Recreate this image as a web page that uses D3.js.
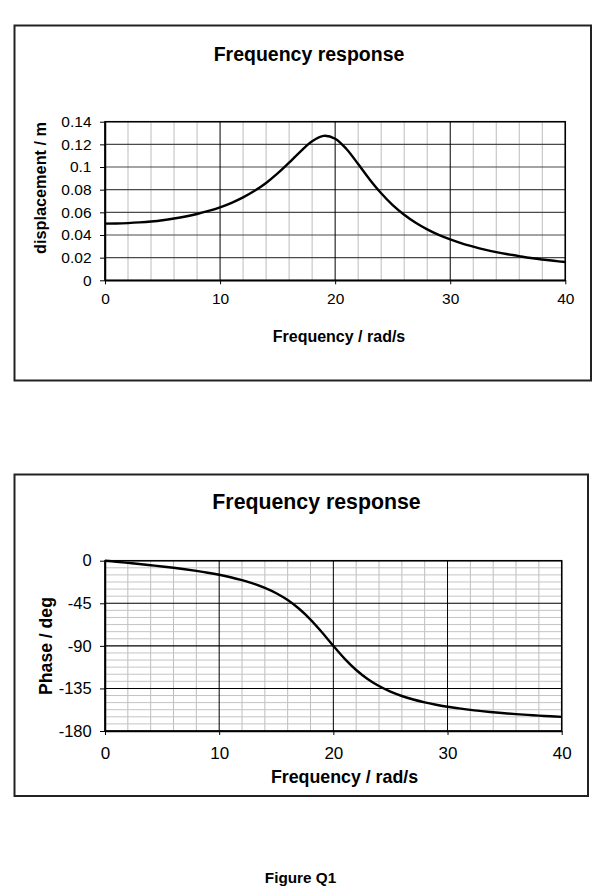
<!DOCTYPE html>
<html>
<head>
<meta charset="utf-8">
<script src="https://cdn.jsdelivr.net/npm/d3@7"></script>
<style>
  html, body { margin: 0; padding: 0; background: #fff; }
  svg { display: block; font-family: "Liberation Sans", Arial, sans-serif; }
</style>
</head>
<body>
<svg id="chart" width="606" height="895"></svg>
<script>
// ---- data ----
const freq = [0,1,2,3,4,5,6,7,8,9,10,11,12,13,14,15,16,17,18,19,20,21,22,23,24,25,26,27,28,29,30,31,32,33,34,35,36,37,38,39,40];
const displacement = [0.0500,0.0501,0.0505,0.0511,0.0519,0.0530,0.0545,0.0563,0.0585,0.0612,0.0644,0.0684,0.0732,0.0790,0.0859,0.0943,0.1038,0.1139,0.1228,0.1275,0.1250,0.1157,0.1026,0.0890,0.0768,0.0664,0.0579,0.0508,0.0450,0.0401,0.0361,0.0326,0.0297,0.0271,0.0249,0.0230,0.0213,0.0197,0.0184,0.0172,0.0161];
const phase = [0,-1.1,-2.3,-3.5,-4.8,-6.1,-7.5,-9.1,-10.8,-12.7,-14.9,-17.5,-20.6,-24.2,-28.8,-34.4,-41.6,-50.8,-62.2,-75.6,-90.0,-103.7,-115.5,-125.0,-132.5,-138.4,-143.0,-146.7,-149.7,-152.2,-154.4,-156.1,-157.7,-159.0,-160.2,-161.3,-162.2,-163.0,-163.8,-164.4,-165.1];
const freqTicks = [0,10,20,30,40];
const freqMinorTicks = [2,4,6,8,12,14,16,18,22,24,26,28,32,34,36,38];
const dispTicks = [0,0.02,0.04,0.06,0.08,0.1,0.12,0.14];
const dispTickLabels = ["0","0.02","0.04","0.06","0.08","0.1","0.12","0.14"];
const phaseTicks = [0,-45,-90,-135,-180];
const phaseTickLabels = ["0","-45","-90","-135","-180"];
const phaseMinorTicks = [-7.5,-15,-22.5,-30,-37.5,-52.5,-60,-67.5,-75,-82.5,-97.5,-105,-112.5,-120,-127.5,-142.5,-150,-157.5,-165,-172.5];
const chartTitle = "Frequency response";
const xTitle = "Frequency / rad/s";
const yTitleTop = "displacement / m";
const yTitleBottom = "Phase / deg";
const caption = "Figure Q1";

const svg = d3.select("#chart");

function drawChart(cfg) {
  const g = svg.append("g");
  // outer frame
  g.append("rect")
    .attr("x", cfg.box[0]).attr("y", cfg.box[1])
    .attr("width", cfg.box[2] - cfg.box[0]).attr("height", cfg.box[3] - cfg.box[1])
    .attr("fill", "#fff").attr("stroke", "#222").attr("stroke-width", 2);

  const x = d3.scaleLinear().domain([0, 40]).range([cfg.plot[0], cfg.plot[2]]);
  const y = d3.scaleLinear().domain(cfg.yDomain).range([cfg.plot[3], cfg.plot[1]]);

  // grid: vertical minor
  g.append("g").selectAll("line").data(freqMinorTicks).join("line")
    .attr("x1", d => x(d)).attr("x2", d => x(d))
    .attr("y1", cfg.plot[1]).attr("y2", cfg.plot[3])
    .attr("stroke", "#bdbdbd").attr("stroke-width", 1);
  // grid: horizontal minor
  if (cfg.yMinor) {
    g.append("g").selectAll("line").data(cfg.yMinor).join("line")
      .attr("x1", cfg.plot[0]).attr("x2", cfg.plot[2])
      .attr("y1", d => y(d)).attr("y2", d => y(d))
      .attr("stroke", "#c4c4c4").attr("stroke-width", 1);
  }
  // grid: horizontal major
  g.append("g").selectAll("line").data(cfg.yTicks).join("line")
    .attr("x1", cfg.plot[0]).attr("x2", cfg.plot[2])
    .attr("y1", d => y(d)).attr("y2", d => y(d))
    .attr("stroke", cfg.hMajorColor).attr("stroke-width", 1.1);
  // grid: vertical major
  g.append("g").selectAll("line").data(freqTicks).join("line")
    .attr("x1", d => x(d)).attr("x2", d => x(d))
    .attr("y1", cfg.plot[1]).attr("y2", cfg.plot[3])
    .attr("stroke", "#000").attr("stroke-width", 1);

  // plot frame
  g.append("rect")
    .attr("x", cfg.plot[0]).attr("y", cfg.plot[1])
    .attr("width", cfg.plot[2] - cfg.plot[0]).attr("height", cfg.plot[3] - cfg.plot[1])
    .attr("fill", "none").attr("stroke", "#000").attr("stroke-width", 1.5);

  // axes
  const xAxis = d3.axisBottom(x).tickValues(freqTicks).tickFormat(d3.format("d"))
    .tickSizeInner(4).tickSizeOuter(0).tickPadding(cfg.xPad);
  const gx = g.append("g").attr("transform", `translate(0,${cfg.plot[3]})`).call(xAxis);
  gx.select(".domain").attr("stroke", "#000").attr("stroke-width", 1.5);
  gx.selectAll(".tick line").attr("stroke", "#000");
  gx.selectAll("text").attr("font-size", cfg.xTickFont).attr("fill", "#000")
    .attr("font-family", "Liberation Sans, Arial, sans-serif");

  const yAxis = d3.axisLeft(y).tickValues(cfg.yTicks)
    .tickFormat((d, i) => cfg.yLabels[i])
    .tickSizeInner(5).tickSizeOuter(0).tickPadding(cfg.yPad);
  const gy = g.append("g").attr("transform", `translate(${cfg.plot[0]},0)`).call(yAxis);
  gy.select(".domain").attr("stroke", "#000").attr("stroke-width", 1.5);
  gy.selectAll(".tick line").attr("stroke", "#000");
  gy.selectAll("text").attr("font-size", cfg.yTickFont).attr("fill", "#000")
    .attr("font-family", "Liberation Sans, Arial, sans-serif");

  // curve
  const line = d3.line().x((d, i) => x(freq[i])).y(d => y(d)).curve(d3.curveCatmullRom.alpha(0.5));
  g.append("path").datum(cfg.values)
    .attr("d", line).attr("fill", "none")
    .attr("stroke", "#000").attr("stroke-width", 2.4).attr("stroke-linejoin", "round");

  // titles
  g.append("text").attr("x", cfg.titlePos[0]).attr("y", cfg.titlePos[1])
    .attr("text-anchor", "middle").attr("font-weight", "bold")
    .attr("font-size", cfg.titleFont).text(chartTitle);
  g.append("text").attr("x", cfg.xTitlePos[0]).attr("y", cfg.xTitlePos[1])
    .attr("text-anchor", "middle").attr("font-weight", "bold")
    .attr("font-size", cfg.xTitleFont).text(xTitle);
  g.append("text")
    .attr("transform", `translate(${cfg.yTitlePos[0]},${cfg.yTitlePos[1]}) rotate(-90)`)
    .attr("text-anchor", "middle").attr("font-weight", "bold")
    .attr("font-size", cfg.yTitleFont).text(cfg.yTitle);
}

drawChart({
  box: [14.5, 25.5, 591, 380.5],
  plot: [105, 121.7, 565.3, 280.3],
  yDomain: [0, 0.14],
  yTicks: dispTicks,
  yLabels: dispTickLabels,
  yMinor: null,
  hMajorColor: "#4a4a4a",
  values: displacement,
  xPad: 9, yPad: 8.5,
  xTickFont: 15.5, yTickFont: 15.5,
  titlePos: [309, 61], titleFont: 19.5,
  xTitlePos: [339, 341.5], xTitleFont: 16,
  yTitlePos: [45.5, 188], yTitleFont: 16.3,
  yTitle: yTitleTop
});

drawChart({
  box: [14.5, 474.5, 588, 796],
  plot: [105, 560.7, 561.7, 731],
  yDomain: [-180, 0],
  yTicks: phaseTicks,
  yLabels: phaseTickLabels,
  yMinor: phaseMinorTicks,
  hMajorColor: "#000",
  values: phase,
  xPad: 12, yPad: 8.3,
  xTickFont: 17, yTickFont: 16.5,
  titlePos: [316.5, 509.3], titleFont: 21.3,
  xTitlePos: [344.5, 782.5], xTitleFont: 17.8,
  yTitlePos: [52, 646], yTitleFont: 17.6,
  yTitle: yTitleBottom
});

svg.append("text").attr("x", 300.5).attr("y", 883)
  .attr("text-anchor", "middle").attr("font-weight", "bold")
  .attr("font-size", 15.3).text(caption);
</script>
</body>
</html>
